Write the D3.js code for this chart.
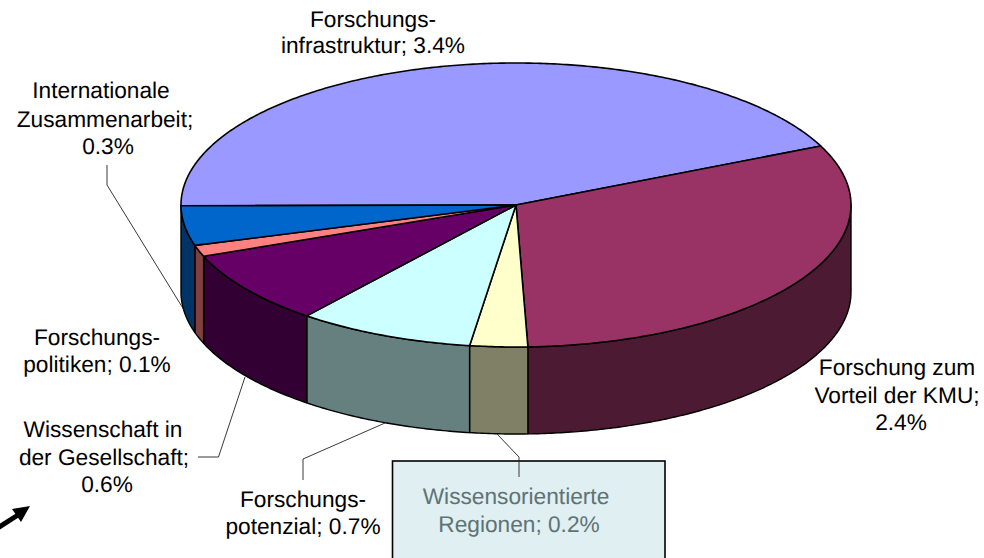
<!DOCTYPE html>
<html>
<head>
<meta charset="utf-8">
<script src="https://cdn.jsdelivr.net/npm/d3@7"></script>
<style>
  html, body { margin: 0; padding: 0; background: #fff; overflow: hidden; }
  text { font-family: "Liberation Sans", Arial, sans-serif; font-size: 22.7px; text-anchor: middle; text-rendering: geometricPrecision; }
</style>
</head>
<body>
<svg id="chart" width="984" height="558"></svg>
<script>
// slices in drawing order, clockwise from the left edge of the pie
const names = [
  ['Forschungs-', 'infrastruktur;'],
  ['Forschung zum', 'Vorteil der KMU;'],
  ['Wissensorientierte', 'Regionen;'],
  ['Forschungs-', 'potenzial;'],
  ['Wissenschaft in', 'der Gesellschaft;'],
  ['Forschungs-', 'politiken;'],
  ['Internationale', 'Zusammenarbeit;']
];
const values = [3.35, 2.42, 0.215, 0.66, 0.649, 0.10, 0.349];
const topColors = ['#9999ff', '#993366', '#ffffcc', '#ccffff', '#660066', '#ff8080', '#0066cc'];
const sideColors = ['#4d4d80', '#4d1a33', '#808066', '#668080', '#330033', '#804040', '#003366'];

const svg = d3.select('#chart');

const depth = 87;
const xScale = d3.scaleLinear().domain([-1, 1]).range([181, 851]);
const yScale = d3.scaleLinear().domain([-1, 1]).range([63, 347]);

// 0 = twelve o'clock, clockwise, same as d3.pie
const px = a => xScale(Math.sin(a));
const py = a => yScale(-Math.cos(a));

const startDeg = 269.7;
const toRad = d => d * Math.PI / 180;
const pie = d3.pie().sort(null).startAngle(toRad(startDeg)).endAngle(toRad(startDeg + 360));
const slices = pie(values);

const rimPoints = (a0, a1) => {
  const n = Math.max(2, Math.ceil((a1 - a0) / 0.01));
  return d3.range(n + 1).map(i => a0 + (a1 - a0) * i / n);
};

const line = d3.line();

// side walls first, only the part facing the viewer
// the pie starts near 270 degrees so the front is 450 to 630 here
const front0 = 2.5 * Math.PI;
const front1 = 3.5 * Math.PI;
const frontOf = d => {
  const a0 = Math.max(d.startAngle, front0);
  const a1 = Math.min(d.endAngle, front1);
  return a1 > a0 ? [a0, a1] : null;
};

svg.append('g').selectAll('path')
  .data(slices.filter(frontOf))
  .enter()
  .append('path')
  .attr('d', d => {
    const [a0, a1] = frontOf(d);
    const upper = rimPoints(a0, a1).map(a => [px(a), py(a)]);
    const lower = rimPoints(a0, a1).reverse().map(a => [px(a), py(a) + depth]);
    return line(upper.concat(lower)) + 'Z';
  })
  .attr('fill', d => sideColors[d.index])
  .attr('stroke', '#000')
  .attr('stroke-width', 1.4)
  .attr('stroke-linejoin', 'round');

// top face
svg.append('g').selectAll('path')
  .data(slices)
  .enter()
  .append('path')
  .attr('d', d => {
    const rim = rimPoints(d.startAngle, d.endAngle).map(a => [px(a), py(a)]);
    return line([[xScale(0), yScale(0)]].concat(rim)) + 'Z';
  })
  .attr('fill', d => topColors[d.index])
  .attr('stroke', '#000')
  .attr('stroke-width', 1.6)
  .attr('stroke-linejoin', 'round');

// box behind the Regionen label
svg.append('rect')
  .attr('x', 392.5)
  .attr('y', 461)
  .attr('width', 272.5)
  .attr('height', 110)
  .attr('fill', '#e0eff2')
  .attr('stroke', '#000')
  .attr('stroke-width', 1.6);

// leader lines
const leaders = [
  [[107, 165], [107, 185], [184, 310]],
  [[198, 457], [218.5, 457], [245, 377]],
  [[303, 480], [303, 459], [385, 423]],
  [[519, 477], [519, 457], [497, 434]]
];

svg.append('g').selectAll('path')
  .data(leaders)
  .enter()
  .append('path')
  .attr('d', line)
  .attr('fill', 'none')
  .attr('stroke', '#222')
  .attr('stroke-width', 0.9);

// labels: which slice, centre x of each line, baseline of each line
const labelPos = [
  { i: 0, x: [373, 373], y: [27, 53], inline: true },
  { i: 1, x: [897, 897, 901], y: [375, 403, 430] },
  { i: 2, x: [516, 519], y: [504, 532], inline: true, fill: '#5f7373' },
  { i: 3, x: [303, 303], y: [507, 534], inline: true },
  { i: 4, x: [103, 104, 107], y: [437, 465, 492] },
  { i: 5, x: [97, 97], y: [345, 372], inline: true },
  { i: 6, x: [101, 105, 108], y: [98, 127, 154] }
];

const pct = v => d3.format('.1f')(v) + '%';

labelPos.forEach(l => {
  const lines = names[l.i].slice();
  if (l.inline) lines[lines.length - 1] += ' ' + pct(values[l.i]);
  else lines.push(pct(values[l.i]));
  svg.append('g').selectAll('text')
    .data(lines)
    .enter()
    .append('text')
    .attr('x', (d, i) => l.x[i])
    .attr('y', (d, i) => l.y[i])
    .attr('fill', l.fill || '#000')
    .text(d => d);
});

// arrow in the lower left corner
svg.append('path')
  .attr('d', line([[-4, 529], [18, 515]]))
  .attr('stroke', '#000')
  .attr('stroke-width', 5);
svg.append('path')
  .attr('d', line([[30, 506], [21, 522], [12, 509]]) + 'Z')
  .attr('fill', '#000');
</script>
</body>
</html>
